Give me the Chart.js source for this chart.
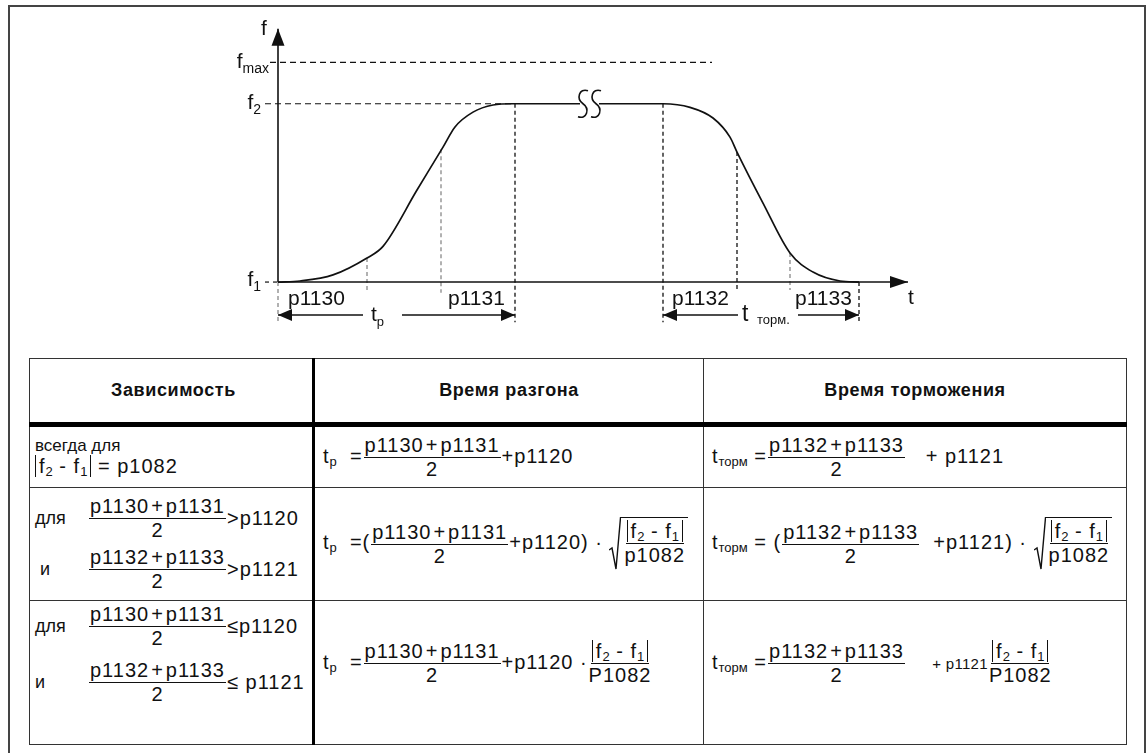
<!DOCTYPE html>
<html>
<head>
<meta charset="utf-8">
<script src="https://cdn.jsdelivr.net/npm/chart.js@4.4.1/dist/chart.umd.min.js"></script>
<style>
body { margin: 0; width: 1146px; height: 753px; overflow: hidden; background: #fff;
       font-family: "Liberation Sans", Arial, sans-serif; color: #111; }
#frame { position: absolute; left: 8px; top: 5px; width: 1138px; height: 800px;
         border: 2px solid #444; box-sizing: border-box; }
#chartBox { position: absolute; left: 200px; top: 8px; width: 760px; height: 332px; }
#tbl { position: absolute; left: 29px; top: 358px; width: 1097px;
       border-collapse: collapse; table-layout: fixed; font-size: 20px; letter-spacing: 1px; }
#tbl td, #tbl th { border: 1.5px solid #333; padding: 0 0 0 8px; white-space: nowrap; }
#tbl th { font-weight: bold; font-size: 18px; letter-spacing: 0.6px; text-align: center; padding: 0;
          border-bottom: 5px solid #000; height: 63px; }
#tbl .c1 { border-right: 3px solid #000; padding-left: 5px; }
.r1 td { height: 60px; }
.r2 td { height: 112px; }
.r3 td { height: 143px; }
.note { font-size: 17px; line-height: 18px; letter-spacing: 0; }
.fr { display: inline-flex; flex-direction: column; align-items: center; vertical-align: middle; margin: 0 1px; }
.fr .n { border-bottom: 1.4px solid #111; padding: 0 1px; line-height: 23px; }
.fr .d { line-height: 23px; }
.op { margin: 0 2px; }
.abs { border-left: 1.4px solid #111; border-right: 1.4px solid #111; padding: 0 3px 0 3px; line-height: 22px; display: inline-block; }
sub { font-size: 13px; vertical-align: -3px; line-height: 0; letter-spacing: 0; }
.cond { height: 51px; display: flex; align-items: center; }
.cond .w { display: inline-block; width: 53px; font-size: 18px; letter-spacing: 0; }
.sq { display: inline-flex; vertical-align: middle; align-items: stretch; }
.sq svg { display: block; }
.sq .rad { border-top: 1.4px solid #111; padding: 2px 2px 0 2px; display: inline-flex; }
.sm { font-size: 15px; letter-spacing: 0.3px; }
.up { position: relative; top: -9px; }
</style>
</head>
<body>
<div id="frame"></div>
<div id="chartBox"><canvas id="ramp" width="760" height="332"></canvas></div>

<table id="tbl">
<colgroup><col style="width:284px"><col style="width:390px"><col style="width:423px"></colgroup>
<tr><th class="c1">Зависимость</th><th>Время разгона</th><th>Время торможения</th></tr>
<tr class="r1">
  <td class="c1"><div class="note">всегда для</div><div><span class="abs">f<sub>2</sub> - f<sub>1</sub></span> = p1082</div></td>
  <td>t<sub>р</sub>&nbsp;&nbsp;=<span class="fr"><span class="n">p1130<span class="op">+</span>p1131</span><span class="d">2</span></span>+p1120</td>
  <td>t<sub>торм</sub> =<span class="fr"><span class="n">p1132<span class="op">+</span>p1133</span><span class="d">2</span></span>&nbsp;&nbsp;&nbsp;+ p1121</td>
</tr>
<tr class="r2">
  <td class="c1">
    <div class="cond"><span class="w">для</span><span class="fr"><span class="n">p1130<span class="op">+</span>p1131</span><span class="d">2</span></span>&gt;p1120</div>
    <div class="cond"><span class="w">&nbsp;и</span><span class="fr"><span class="n">p1132<span class="op">+</span>p1133</span><span class="d">2</span></span>&gt;p1121</div>
  </td>
  <td>t<sub>р</sub>&nbsp;&nbsp;=(<span class="fr"><span class="n">p1130<span class="op">+</span>p1131</span><span class="d">2</span></span>+p1120) ·
    <span class="sq"><svg width="12" height="54" viewBox="0 0 12 54"><path d="M0 33 L3 31 L7 52 L11.5 0.7 L12 0.7" fill="none" stroke="#111" stroke-width="1.4"/></svg><span class="rad"><span class="fr"><span class="n"><span class="abs">f<sub>2</sub> - f<sub>1</sub></span></span><span class="d">p1082</span></span></span></span></td>
  <td>t<sub>торм</sub> = (<span class="fr"><span class="n">p1132<span class="op">+</span>p1133</span><span class="d">2</span></span>&nbsp; +p1121) ·
    <span class="sq"><svg width="12" height="54" viewBox="0 0 12 54"><path d="M0 33 L3 31 L7 52 L11.5 0.7 L12 0.7" fill="none" stroke="#111" stroke-width="1.4"/></svg><span class="rad"><span class="fr"><span class="n"><span class="abs">f<sub>2</sub> - f<sub>1</sub></span></span><span class="d">p1082</span></span></span></span></td>
</tr>
<tr class="r3">
  <td class="c1" style="vertical-align:top">
    <div class="cond"><span class="w">для</span><span class="fr"><span class="n">p1130<span class="op">+</span>p1131</span><span class="d">2</span></span>≤p1120</div>
    <div class="cond" style="margin-top:5px"><span class="w">и</span><span class="fr"><span class="n">p1132<span class="op">+</span>p1133</span><span class="d">2</span></span>≤ p1121</div>
  </td>
  <td><div class="up">t<sub>р</sub>&nbsp;&nbsp;=<span class="fr"><span class="n">p1130<span class="op">+</span>p1131</span><span class="d">2</span></span>+p1120 ·<span class="fr"><span class="n"><span class="abs">f<sub>2</sub> - f<sub>1</sub></span></span><span class="d">P1082</span></span></div></td>
  <td><div class="up">t<sub>торм</sub> =<span class="fr"><span class="n">p1132<span class="op">+</span>p1133</span><span class="d">2</span></span>&nbsp;&nbsp;&nbsp; <span class="sm">+ p1121</span><span class="fr"><span class="n"><span class="abs">f<sub>2</sub> - f<sub>1</sub></span></span><span class="d">P1082</span></span></div></td>
</tr>
</table>

<script>
// S-ramp: t in units of 100 px from the f axis,
// f as a fraction of (f2 - f1), so f1 = 0 and f2 = 1
const rampT = [0, 0.22, 0.55, 0.89, 1.05, 1.39, 1.65, 1.77, 1.95, 2.15, 2.35,
               3.85, 4.12, 4.35, 4.52, 4.59, 4.85, 5.12, 5.35, 5.62, 5.81];
const rampF = [0, 0.006, 0.04, 0.135, 0.20, 0.516, 0.757, 0.87, 0.953, 0.993, 1,
               1, 0.98, 0.92, 0.813, 0.729, 0.443, 0.163, 0.056, 0.006, 0];

// levels on the f axis
const levelF1 = 0;
const levelF2 = 1;
const levelFmax = 1.232;

// where the rounding phases start and end
const phaseT = [0, 0.89, 1.63, 2.37, 3.85, 4.59, 5.12, 5.81];
const phaseTopF = [0, 0.135, 0.745, 1, 1, 0.729, 0.163, 0];
const phaseLabels = ['p1130', 'p1131', 'p1132', 'p1133'];

// the two time spans under the axis
const spanStart = [0, 3.85];
const spanEnd = [2.37, 5.81];
const spanSub = ['р', 'торм.'];

// axis extents and the break in the constant part
const axisEndT = 6.30;
const axisTopF = 1.42;
const breakT = [3.05, 3.18];

// layout (not data): label offsets below the axis, dashed line ends, span gaps
const phaseLabelT = [0.10, 1.70, 3.94, 5.17];
const guideLowF = [-0.225, -0.06, -0.06, -0.225, -0.225, -0.045, -0.045, -0.225];
const guideColor = ['#888', '#888', '#888', '#111', '#111', '#111', '#888', '#111'];
const spanGap = [[0.85, 1.24], [4.60, 5.20]];
const spanY = -0.185;
const FONT = '"Liberation Sans", Arial, sans-serif';

const seg = (pts, extra) => Object.assign({
    data: pts, borderColor: '#111', borderWidth: 1.6, pointRadius: 0, fill: false, tension: 0
}, extra || {});

const datasets = [];
datasets.push(seg(rampT.map((t, i) => ({ x: t, y: rampF[i] })), { cubicInterpolationMode: 'monotone', borderWidth: 1.7 }));
datasets.push(seg([{ x: 0, y: levelF1 }, { x: axisEndT, y: levelF1 }]));
datasets.push(seg([{ x: 0, y: levelF1 }, { x: 0, y: axisTopF }]));
datasets.push(seg([{ x: -0.08, y: levelFmax }, { x: 4.34, y: levelFmax }], { borderDash: [6, 4], borderWidth: 1.2 }));
datasets.push(seg([{ x: -0.13, y: levelF2 }, { x: rampT[10], y: levelF2 }], { borderDash: [6, 4], borderWidth: 1.2 }));
datasets.push(seg([{ x: -0.13, y: levelF1 }, { x: 0, y: levelF1 }], { borderDash: [4, 4], borderWidth: 1.2 }));
phaseT.forEach((t, i) => {
    datasets.push(seg([{ x: t, y: phaseTopF[i] }, { x: t, y: guideLowF[i] }],
        { borderDash: [4, 3], borderWidth: 1.3, borderColor: guideColor[i] }));
});
spanStart.forEach((s, i) => {
    datasets.push(seg([{ x: s, y: spanY }, { x: spanGap[i][0], y: spanY }]));
    datasets.push(seg([{ x: spanGap[i][1], y: spanY }, { x: spanEnd[i], y: spanY }]));
});

function arrowHead(ctx, x, y, ang, len, wid) {
    ctx.save();
    ctx.translate(x, y);
    ctx.rotate(ang);
    ctx.beginPath();
    ctx.moveTo(0, 0);
    ctx.lineTo(-len, -wid / 2);
    ctx.lineTo(-len, wid / 2);
    ctx.closePath();
    ctx.fill();
    ctx.restore();
}

// text with a subscript; x is the left edge, or the right edge when align is 'right'
function subLabel(ctx, main, sub, x, y, mainSize, subSize, align) {
    ctx.font = mainSize + 'px ' + FONT;
    const w1 = ctx.measureText(main).width;
    ctx.font = subSize + 'px ' + FONT;
    const w2 = ctx.measureText(sub).width;
    const left = align === 'right' ? x - w1 - w2 : x;
    ctx.textAlign = 'left';
    ctx.textBaseline = 'alphabetic';
    ctx.font = mainSize + 'px ' + FONT;
    ctx.fillText(main, left, y);
    ctx.font = subSize + 'px ' + FONT;
    ctx.fillText(sub, left + w1, y + 5);
}

const decor = {
    id: 'decor',
    afterDatasetsDraw(chart) {
        const { ctx, scales: { x, y } } = chart;
        const X = v => x.getPixelForValue(v);
        const Y = v => y.getPixelForValue(v);
        ctx.save();
        ctx.fillStyle = '#111';
        ctx.strokeStyle = '#111';

        // axis arrows
        arrowHead(ctx, X(axisEndT), Y(levelF1), 0, 18, 12);
        arrowHead(ctx, X(0), Y(axisTopF), -Math.PI / 2, 17, 13);

        // span arrows
        spanStart.forEach((s, i) => {
            arrowHead(ctx, X(s), Y(spanY), Math.PI, 14, 12);
            arrowHead(ctx, X(spanEnd[i]), Y(spanY), 0, 14, 12);
        });

        // break in the constant part
        const by = Y(levelF2);
        ctx.fillStyle = '#fff';
        ctx.fillRect(X(breakT[0]) - 3, by - 2, X(breakT[1]) - X(breakT[0]) + 6, 4);
        ctx.fillStyle = '#111';
        ctx.lineWidth = 1.6;
        breakT.forEach(t => {
            const cx = X(t);
            ctx.beginPath();
            ctx.moveTo(cx + 5, by - 13);
            ctx.bezierCurveTo(cx - 4, by - 16, cx - 7, by - 5, cx, by);
            ctx.bezierCurveTo(cx + 7, by + 5, cx + 4, by + 16, cx - 5, by + 13);
            ctx.stroke();
        });

        // axis names and levels
        const x0 = X(0);
        ctx.textBaseline = 'alphabetic';
        ctx.textAlign = 'center';
        ctx.font = '21px ' + FONT;
        ctx.fillText('f', x0 - 14, Y(axisTopF) + 6);
        ctx.fillText('t', X(axisEndT) + 3, Y(levelF1) + 22);
        subLabel(ctx, 'f', 'max', x0 - 9, Y(levelFmax) + 6, 21, 14, 'right');
        subLabel(ctx, 'f', '2', x0 - 17, Y(levelF2) + 5, 21, 14, 'right');
        subLabel(ctx, 'f', '1', x0 - 17, Y(levelF1) + 4, 21, 14, 'right');

        // phase names
        ctx.textAlign = 'left';
        ctx.font = '21px ' + FONT;
        phaseLabels.forEach((p, i) => ctx.fillText(p, X(phaseLabelT[i]), Y(levelF1) + 23));

        // span names
        subLabel(ctx, 't', spanSub[0], X(spanGap[0][0]) + 8, Y(spanY) + 6, 21, 13, 'left');
        subLabel(ctx, 't', '', X(spanGap[1][0]) + 4, Y(spanY) + 6, 23, 13, 'left');
        ctx.font = '13px ' + FONT;
        ctx.fillText(spanSub[1], X(spanGap[1][0]) + 19, Y(spanY) + 9);
        ctx.restore();
    }
};

new Chart(document.getElementById('ramp'), {
    type: 'line',
    data: { datasets },
    options: {
        responsive: false,
        animation: false,
        devicePixelRatio: 1,
        layout: { padding: 0 },
        plugins: { legend: { display: false }, tooltip: { enabled: false } },
        scales: {
            x: { type: 'linear', min: -0.78, max: 6.82, display: false },
            y: { type: 'linear', min: -0.325, max: 1.537, display: false }
        }
    },
    plugins: [decor]
});
</script>
</body>
</html>
